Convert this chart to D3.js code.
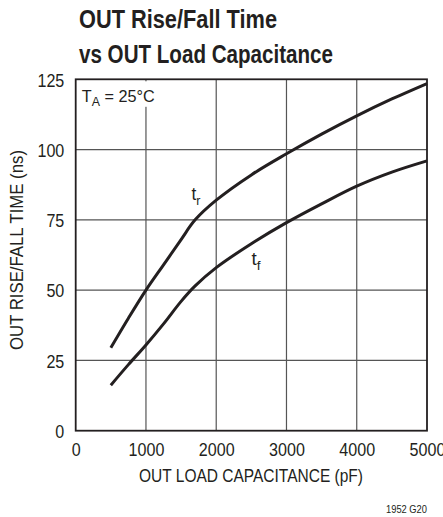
<!DOCTYPE html>
<html><head><meta charset="utf-8">
<script src="https://cdn.jsdelivr.net/npm/d3@7"></script>
<style>
body{margin:0;background:#fff;}
text{font-family:"Liberation Sans",Arial,sans-serif;fill:#231f20;}
</style></head>
<body><svg id="c" width="443" height="517"></svg>
<script>
const xTicks = [0,1000,2000,3000,4000,5000];
const yTicks = [0,25,50,75,100,125];
const capPF = [500,750,1000,1250,1500,1700,2000,2500,3000,3500,4000,4500,5000];
const riseNs = [29.5,40,50,59,68,75,82,91,98.5,105.5,112,118,123.5];
const fallNs = [16.2,23.5,30.5,38,46,51.5,58,66.5,74,80.7,87,92,96];

const svg = d3.select("#c");
const L=75.7,R=427,T=79.3,B=430.7;
const x = d3.scaleLinear().domain([0,5000]).range([L,R]);
const y = d3.scaleLinear().domain([0,125]).range([B,T]);
const DIGW = 8.95;

function cond(sel, w){ return sel.attr("textLength", w).attr("lengthAdjust","spacingAndGlyphs"); }

// title
cond(svg.append("text").attr("x",79).attr("y",28.3).attr("font-size",25).attr("font-weight","bold").text("OUT Rise/Fall Time"),198);
cond(svg.append("text").attr("x",79).attr("y",62.7).attr("font-size",25).attr("font-weight","bold").text("vs OUT Load Capacitance"),254);

// grid
svg.append("g").selectAll("line").data(xTicks.slice(1,-1)).join("line")
  .attr("x1",d=>x(d)).attr("x2",d=>x(d)).attr("y1",T).attr("y2",B)
  .attr("stroke","#555").attr("stroke-width",1.2);
svg.append("g").selectAll("line").data(yTicks.slice(1,-1)).join("line")
  .attr("y1",d=>y(d)).attr("y2",d=>y(d)).attr("x1",L).attr("x2",R)
  .attr("stroke","#555").attr("stroke-width",1.2);

// TA label with white background
svg.append("rect").attr("x",L+2).attr("y",T+2).attr("width",86).attr("height",25.5).attr("fill","#fff");
const ta = svg.append("text").attr("x",81.7).attr("y",101.7).attr("font-size",17);
ta.append("tspan").text("T");
ta.append("tspan").attr("font-size",13).attr("dy",4).text("A");
ta.append("tspan").attr("dy",-4).text(" = 25°C");
cond(ta,73);

// frame
svg.append("rect").attr("x",L).attr("y",T).attr("width",R-L).attr("height",B-T)
  .attr("fill","none").attr("stroke","#231f20").attr("stroke-width",1.8);

// axes labels
const xa = d3.axisBottom(x).tickValues(xTicks).tickFormat(d3.format("d")).tickSize(0).tickPadding(0);
const gx = svg.append("g").attr("transform",`translate(0,${B})`).call(xa);
gx.select(".domain").remove();
gx.selectAll("text").attr("font-size",19).attr("dy",0).attr("y",25).attr("fill","#231f20")
  .attr("font-family","'Liberation Sans',Arial,sans-serif")
  .each(function(){ const s=d3.select(this); cond(s, s.text().length*DIGW); });
const ya = d3.axisLeft(y).tickValues(yTicks).tickFormat(d3.format("d")).tickSize(0).tickPadding(0);
const gy = svg.append("g").attr("transform",`translate(64.3,0)`).call(ya);
gy.select(".domain").remove();
gy.selectAll("text").attr("font-size",19).attr("dy","0.36em").attr("x",0).attr("fill","#231f20")
  .attr("font-family","'Liberation Sans',Arial,sans-serif")
  .each(function(){ const s=d3.select(this); cond(s, s.text().length*DIGW); });

cond(svg.append("text").attr("x",251).attr("y",482).attr("text-anchor","middle").attr("font-size",19)
  .text("OUT LOAD CAPACITANCE (pF)"),224);
cond(svg.append("text").attr("transform",`translate(22.5,250) rotate(-90)`).attr("text-anchor","middle").attr("font-size",19)
  .text("OUT RISE/FALL TIME (ns)"),200);
cond(svg.append("text").attr("x",427).attr("y",512.5).attr("text-anchor","end").attr("font-size",10.5).text("1952 G20"),41);

// curves
const line = d3.line().x((d,i)=>x(capPF[i])).y(d=>y(d)).curve(d3.curveCatmullRom.alpha(0.5));
[riseNs,fallNs].forEach(s=>{
  svg.append("path").attr("d",line(s)).attr("fill","none").attr("stroke","#231f20").attr("stroke-width",3);
});

// curve labels
const tr = svg.append("text").attr("x",191.5).attr("y",200).attr("font-size",18);
tr.append("tspan").text("t");
tr.append("tspan").attr("font-size",13).attr("dy",4.5).text("r");
cond(tr,9);
const tf = svg.append("text").attr("x",251.5).attr("y",265).attr("font-size",18);
tf.append("tspan").text("t");
tf.append("tspan").attr("font-size",13).attr("dy",4.5).text("f");
cond(tf,9);
</script></body></html>
